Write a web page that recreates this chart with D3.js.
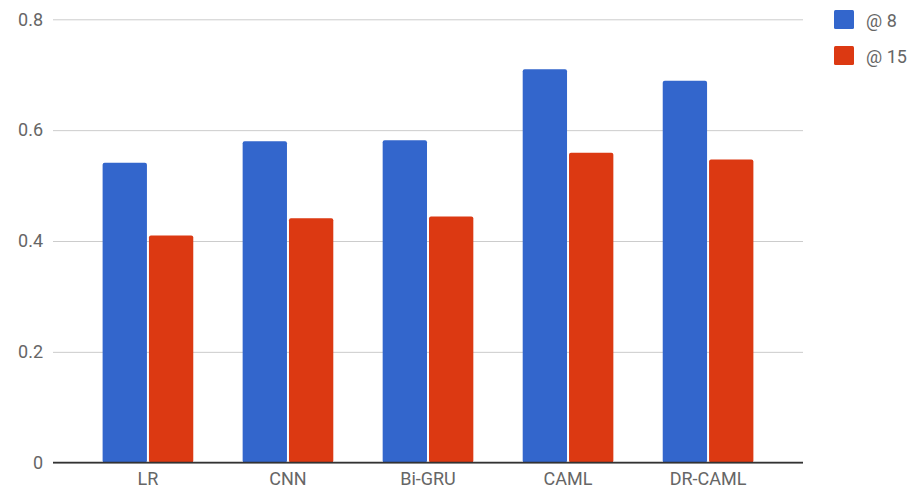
<!DOCTYPE html>
<html>
<head>
<meta charset="utf-8">
<script src="https://cdn.jsdelivr.net/npm/d3@7"></script>
<style>
  html, body { margin: 0; padding: 0; background: #fff; }
  svg { display: block; font-family: Roboto, "Noto Sans", Arial, sans-serif; }
</style>
</head>
<body>
<svg id="chart" width="914" height="490"></svg>
<script>
const categories = ["LR", "CNN", "Bi-GRU", "CAML", "DR-CAML"];
const seriesNames = ["@ 8", "@ 15"];
const at8 = [0.541, 0.580, 0.582, 0.710, 0.689];
const at15 = [0.410, 0.441, 0.444, 0.559, 0.547];
const yTicks = [0, 0.2, 0.4, 0.6, 0.8];
const colors = ["#3366cc", "#dc3912"];

(function () {
const svg = d3.select("#chart");
const mLeft = 53, mRight = 803, mTop = 19.3, mBottom = 462.7;

const y = d3.scaleLinear().domain([0, 0.8]).range([mBottom, mTop]);
const x = d3.scaleBand().domain(categories).range([mLeft, mRight])
  .paddingInner(0).paddingOuter(0.178);
const xInner = d3.scaleBand().domain(seriesNames).range([0, x.bandwidth()])
  .paddingInner(0.043).paddingOuter(0.533);

// gridlines
const grid = d3.axisLeft(y).tickValues(yTicks).tickSize(-(mRight - mLeft)).tickFormat(d => d === 0 ? "0" : d3.format(".1f")(d));
const gAxis = svg.append("g").attr("transform", `translate(${mLeft},0)`).call(grid);
gAxis.select(".domain").remove();
gAxis.selectAll(".tick line").attr("stroke", "#cccccc").attr("stroke-width", 1);
gAxis.selectAll(".tick text").attr("x", -10).attr("fill", "#666").attr("font-size", 18)
  .attr("font-family", "Roboto, sans-serif");

// bars
const series = [at8, at15];
const groups = svg.append("g");
categories.forEach((c, i) => {
  seriesNames.forEach((s, j) => {
    const v = series[j][i];
    groups.append("rect")
      .attr("x", x(c) + xInner(s))
      .attr("y", y(v))
      .attr("width", xInner.bandwidth())
      .attr("height", y(0) - y(v))
      .attr("rx", 2).attr("ry", 2)
      .attr("fill", colors[j]);
  });
});

// baseline
svg.append("line").attr("x1", mLeft).attr("x2", mRight).attr("y1", y(0)).attr("y2", y(0))
  .attr("stroke", "#333").attr("stroke-width", 1.7);

// x axis labels
const xAxis = d3.axisBottom(x).tickSize(0).tickPadding(10);
const gx = svg.append("g").attr("transform", `translate(0,${y(0)})`).call(xAxis);
gx.select(".domain").remove();
gx.selectAll(".tick text").attr("fill", "#666").attr("font-size", 18)
  .attr("font-family", "Roboto, sans-serif").attr("dy", "0.71em");

// legend
const legend = svg.append("g").attr("transform", "translate(834,10)");
seriesNames.forEach((s, j) => {
  const g = legend.append("g").attr("transform", `translate(0,${j * 36})`);
  g.append("rect").attr("width", 20).attr("height", 19).attr("rx", 1.5).attr("fill", colors[j]);
  g.append("text").attr("x", 32).attr("y", 16.5).attr("fill", "#666").attr("font-size", 18)
    .attr("font-family", "Roboto, sans-serif").text(s);
});
})();
</script>
</body>
</html>
